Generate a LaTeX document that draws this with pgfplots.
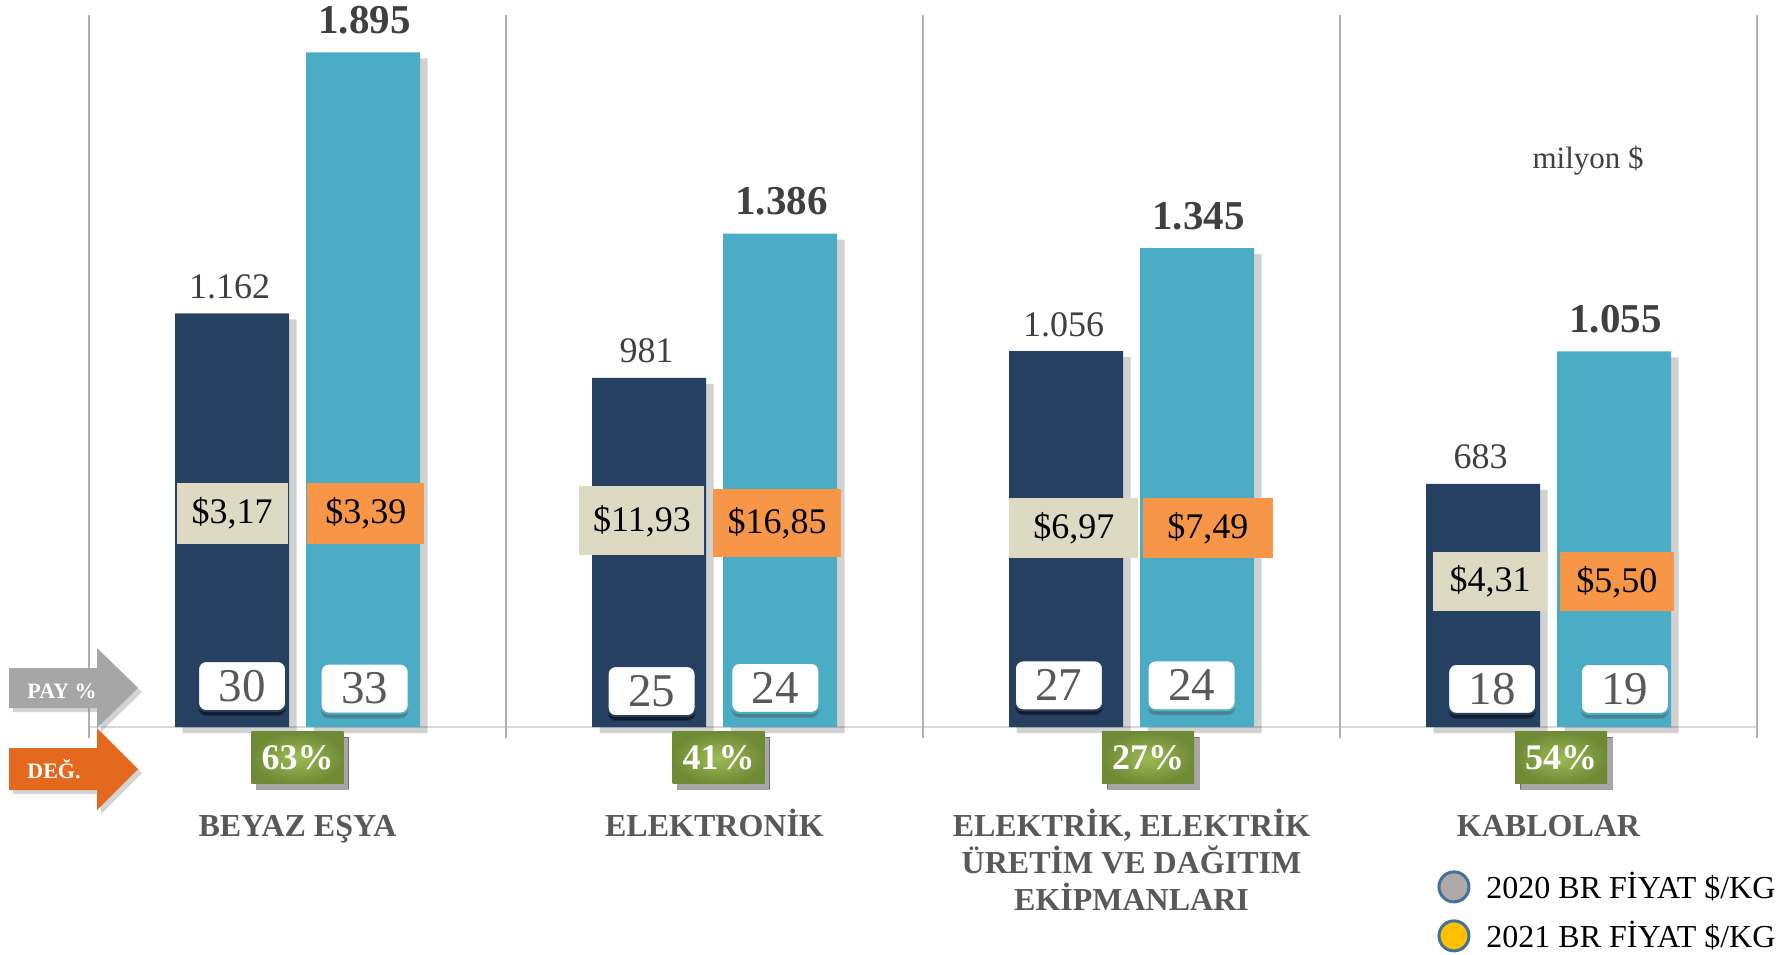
\documentclass[border=0pt]{standalone}
\usepackage{pgfplots}
\pgfplotsset{compat=1.18}
\usepackage{fontspec}
\setmainfont{Liberation Serif}
\usetikzlibrary{shadows}
\definecolor{navy}{HTML}{254061}
\definecolor{aqua}{HTML}{4BACC6}
\definecolor{beige}{HTML}{DDD9C3}
\definecolor{orng}{HTML}{F79646}
\definecolor{grn}{HTML}{6F8A35}
\definecolor{grnlt}{HTML}{9CBB55}
\definecolor{arrgray}{HTML}{A6A6A6}
\definecolor{arrorange}{HTML}{E4691F}
\definecolor{catgray}{HTML}{595959}
\definecolor{valgray}{HTML}{404040}
\definecolor{sepgray}{HTML}{B0B0B0}
\definecolor{basegray}{HTML}{D9D9D9}
\definecolor{leggray}{HTML}{AEAAAA}
\definecolor{legyellow}{HTML}{FFC000}
\definecolor{legborder}{HTML}{41719C}

\pgfplotstableread{
x y w h label
-0.157 601 55.5 30.5 \$3,17
0.826 579 62.5 34.5 \$11,93
1.862 559 64.5 30 \$6,97
2.860 410 57 29.5 \$4,31
}\pricetwenty
\pgfplotstableread{
x y w h label
0.164 601 58.5 30.5 \$3,39
1.150 573 64 34 \$16,85
2.183 559 65 30 \$7,49
3.164 408 57 29.5 \$5,50
}\pricetwentyone
\pgfplotstableread{
x y label
-0.133 115 30
0.849 101 25
1.826 117 27
2.865 107 18
}\sharetwenty
\pgfplotstableread{
x y label
0.161 108 33
1.146 110 24
2.144 117 24
3.183 107 19
}\sharetwentyone
\pgfplotstableread{
x y label
0.00 -87 63\%
1.01 -87 41\%
2.04 -87 27\%
3.03 -87 54\%
}\change

\begin{document}
\begin{tikzpicture}
\useasboundingbox (0,0) rectangle (893.5pt,477pt);
\begin{axis}[
  at={(44.5pt,113.5pt)}, anchor=south west,
  scale only axis, width=834pt, height=356pt,
  xmin=-0.5, xmax=3.5, ymin=0, ymax=2000,
  clip=false,
  axis x line*=bottom, axis y line=none,
  x axis line style={draw=basegray, line width=1pt},
  xtick={0,1,2,3},
  xticklabels={{\vphantom{İ}BEYAZ EŞYA},{\vphantom{İ}ELEKTRONİK},{ELEKTRİK, ELEKTRİK\\ÜRETİM VE DAĞITIM\\EKİPMANLARI},{\vphantom{İ}KABLOLAR}},
  major tick length=0pt, xtick style={draw=none},
  xticklabel style={anchor=north, inner sep=0pt, yshift=-41pt, align=center,
    font=\fontsize{16}{18.5}\selectfont\bfseries, text=catgray},
  legend style={at={(axis description cs:0.8082,-0.2008)}, anchor=north west,
    draw=none, fill=none, inner sep=0pt, font=\fontsize{16}{17.5}\selectfont,
    row sep=8pt, nodes={inner sep=0pt},
    /tikz/every odd column/.append style={column sep=8pt}},
  legend cell align=left,
]
% separators
\draw[sepgray, line width=1pt] (axis cs:-0.5,-31) -- (axis cs:-0.5,2000);
\draw[sepgray, line width=1pt] (axis cs:0.5,-31) -- (axis cs:0.5,2000);
\draw[sepgray, line width=1pt] (axis cs:1.5,-31) -- (axis cs:1.5,2000);
\draw[sepgray, line width=1pt] (axis cs:2.5,-31) -- (axis cs:2.5,2000);
\draw[sepgray, line width=1pt] (axis cs:3.5,-31) -- (axis cs:3.5,2000);

% bar shadows
\addplot[ybar, bar width=57pt, bar shift=-29pt, fill=black, fill opacity=0.18, draw=none, yshift=-3pt, forget plot]
  coordinates {(0,1162) (1,981) (2,1056) (3,683)};
\addplot[ybar, bar width=57pt, bar shift=36.5pt, fill=black, fill opacity=0.18, draw=none, yshift=-3pt, forget plot]
  coordinates {(0,1895) (1,1386) (2,1345) (3,1055)};

% bars 2020
\addplot[ybar, bar width=57pt, bar shift=-32.75pt, fill=navy, draw=none, forget plot,
  point meta=explicit symbolic, nodes near coords,
  every node near coord/.append style={font=\fontsize{18}{20}\selectfont, text=valgray, anchor=base, inner sep=0pt, xshift=-34pt, yshift=7.5pt}]
  coordinates {(0,1162)[1.162] (1,981)[981] (2,1056)[1.056] (3,683)[683]};
% bars 2021
\addplot[ybar, bar width=57pt, bar shift=32.75pt, fill=aqua, draw=none, forget plot,
  point meta=explicit symbolic, nodes near coords,
  every node near coord/.append style={font=\fontsize{20.5}{22}\selectfont\bfseries, text=valgray, anchor=base, inner sep=0pt, xshift=33.5pt, yshift=9.5pt}]
  coordinates {(0,1895)[1.895] (1,1386)[1.386] (2,1345)[1.345] (3,1055)[1.055]};

% price boxes
\addplot[only marks, mark=*, mark size=0.01pt, mark options={draw=none, fill=none}, forget plot,
  point meta=explicit symbolic, nodes near coords,
  visualization depends on={\thisrow{w} \as \boxw},
  visualization depends on={\thisrow{h} \as \boxh},
  every node near coord/.append style={anchor=center, fill=beige, text=black, inner sep=0pt,
    minimum width=\boxw pt, minimum height=\boxh pt, font=\fontsize{18}{20}\selectfont}]
  table[x=x, y=y, meta=label] {\pricetwenty};
\addplot[only marks, mark=*, mark size=0.01pt, mark options={draw=none, fill=none}, forget plot,
  point meta=explicit symbolic, nodes near coords,
  visualization depends on={\thisrow{w} \as \boxw},
  visualization depends on={\thisrow{h} \as \boxh},
  every node near coord/.append style={anchor=center, fill=orng, text=black, inner sep=0pt,
    minimum width=\boxw pt, minimum height=\boxh pt, font=\fontsize{18}{20}\selectfont}]
  table[x=x, y=y, meta=label] {\pricetwentyone};

% share boxes
\addplot[only marks, mark=*, mark size=0.01pt, mark options={draw=none, fill=none}, forget plot,
  point meta=explicit symbolic, nodes near coords,
  every node near coord/.append style={anchor=center, fill=white, draw=navy, line width=1pt, rounded corners=4pt,
    minimum width=44pt, minimum height=25pt, inner sep=0pt, text=catgray, font=\fontsize{23.5}{24}\selectfont,
    drop shadow={shadow xshift=0pt, shadow yshift=-2.5pt, opacity=0.55, fill=black}}]
  table[x=x, y=y, meta=label] {\sharetwenty};
\addplot[only marks, mark=*, mark size=0.01pt, mark options={draw=none, fill=none}, forget plot,
  point meta=explicit symbolic, nodes near coords,
  every node near coord/.append style={anchor=center, fill=white, draw=aqua, line width=1pt, rounded corners=4pt,
    minimum width=44pt, minimum height=25pt, inner sep=0pt, text=catgray, font=\fontsize{23.5}{24}\selectfont,
    drop shadow={shadow xshift=0pt, shadow yshift=-2.5pt, opacity=0.45, fill=black!70}}]
  table[x=x, y=y, meta=label] {\sharetwentyone};

% change boxes
\addplot[only marks, mark=*, mark size=0.01pt, mark options={draw=none, fill=none}, forget plot,
  point meta=explicit symbolic, nodes near coords,
  every node near coord/.append style={anchor=center, inner color=grnlt, outer color=grn, text=white,
    minimum width=46pt, minimum height=26pt, inner sep=0pt, font=\fontsize{18}{20}\selectfont\bfseries,
    drop shadow={shadow xshift=2.5pt, shadow yshift=-2.5pt, opacity=0.35, fill=black}}]
  table[x=x, y=y, meta=label] {\change};

\node[font=\fontsize{15.5}{17}\selectfont, text=valgray] at (axis cs:3.095,1590) {milyon \$};

\addlegendimage{legend image code/.code={\filldraw[fill=leggray, draw=legborder, line width=1.5pt] (7.5pt,0pt) circle[radius=7.5pt];}}
\addlegendentry{2020 BR FİYAT \$/KG}
\addlegendimage{legend image code/.code={\filldraw[fill=legyellow, draw=legborder, line width=1.5pt] (7.5pt,0pt) circle[radius=7.5pt];}}
\addlegendentry{2021 BR FİYAT \$/KG}
\end{axis}

\begin{scope}[shift={(0,477pt)}, x=0.5pt, y=-0.5pt]
\fill[arrgray, drop shadow={shadow xshift=2pt, shadow yshift=-2pt, opacity=0.35}]
  (9,668) -- (97,668) -- (97,648) -- (138,688) -- (97,728) -- (97,708) -- (9,708) -- cycle;
\fill[arrorange, drop shadow={shadow xshift=2pt, shadow yshift=-2pt, opacity=0.35}]
  (9,748) -- (97,748) -- (97,728) -- (138,769) -- (97,810) -- (97,790) -- (9,790) -- cycle;
\node[anchor=base, text=white, font=\fontsize{11}{12}\selectfont\bfseries] at (62,698) {PAY \%};
\node[anchor=base, text=white, font=\fontsize{11}{12}\selectfont\bfseries] at (54,778) {DEĞ.};
\end{scope}
\end{tikzpicture}
\end{document}
